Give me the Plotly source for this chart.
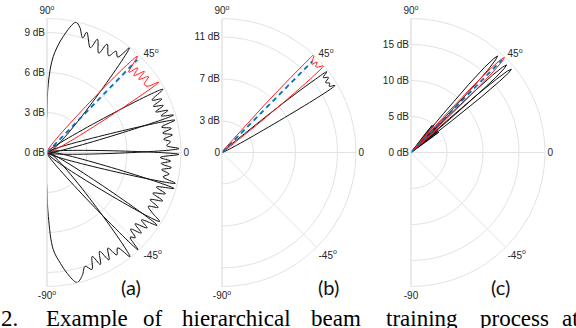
import plotly.graph_objects as go

W, H = 576, 328

# ---------------- DATA (angles in degrees, gains in dB) ----------------
# Panel (a): 8 wide beams (layer 1)
a_beam1_theta = [90, 90, 88.9, 86.3, 82, 77.5, 75.3, 72.7, 71.7, 67.5, 66, 62.5, 61, 57.5, 55.7, 53.5, 51.8, 50.5]
a_beam1_r     = [0, 3.0, 5.2, 7.2, 8.8, 10.0, 9.7, 9.0, 9.5, 8.5, 9.3, 8.4, 9.3, 8.6, 9.2, 8.9, 10.0, 0]
a_beam2_theta = [48, 46.8, 44.5, 43.0, 41.5, 39.8, 38.5, 36.8, 35.0, 33.5, 32.2, 31]
a_beam2_r     = [0, 9.9, 8.6, 9.3, 8.7, 9.5, 8.8, 9.5, 8.9, 9.0, 9.9, 0]
a_beam3_theta = [30, 28.6, 26.5, 25, 23.5, 22, 20.5, 19.2, 17.8, 16.5, 15.5]
a_beam3_r     = [0, 9.9, 8.8, 9.5, 8.7, 9.4, 8.7, 9.6, 9.0, 9.9, 0]
a_beam4_theta = [15.5, 14.2, 12.5, 11, 9.5, 8, 6.5, 5, 3.3, 1.7, 0.5]
a_beam4_r     = [0, 9.9, 8.8, 9.5, 8.8, 9.5, 8.8, 9.3, 9.0, 9.9, 0]
a_beam5_theta = [0.5, -0.8, -2.5, -4, -5.5, -7, -8.5, -10, -11.8, -13.5, -14.5]
a_beam5_r     = [0, 9.9, 8.5, 9.3, 8.6, 9.4, 8.7, 9.3, 8.9, 9.9, 0]
a_beam6_theta = [-14.5, -15.8, -17.5, -19.2, -21, -22.7, -24.5, -26.3, -28, -29.8, -31.5, -32.5]
a_beam6_r     = [0, 9.9, 8.6, 9.4, 8.5, 9.4, 8.5, 9.3, 8.6, 9.1, 9.9, 0]
a_beam7_theta = [-32.5, -33.5, -35.5, -37, -39, -40.5, -42.5, -44, -45.5, -46.9, -48]
a_beam7_r     = [0, 9.9, 8.7, 9.4, 8.5, 9.3, 8.5, 9.2, 8.9, 10.0, 0]
a_beam8_theta = [-50.5, -51.5, -53.5, -55.7, -57.5, -60, -62, -64.5, -66.5, -69, -71.5, -74, -77, -80.5, -83, -86.3, -88.8, -90, -90]
a_beam8_r     = [0, 10.0, 8.9, 9.3, 8.5, 9.3, 8.4, 9.3, 8.5, 9.4, 9.0, 9.6, 10.0, 9.2, 8.4, 7.3, 4.8, 2.8, 0]
a_true_theta = [45.8, 45.8]
a_true_r     = [0, 9.7]

# Panel (b): 2 medium beams (layer 2)
b_black_theta = [40.5, 39.8, 39.2, 38.6, 38.1, 37.6, 36.5, 35.2, 34.0, 32.8, 31.7, 30.7, 30.3]
b_black_r     = [0, 3, 6, 9, 11.3, 12.6, 12.0, 12.4, 11.9, 12.2, 12.0, 12.5, 0]
b_red_theta   = [49.5, 48.8, 48.2, 47.6, 47.1, 46.7, 45.5, 44.5, 43.5, 42.5, 41.5, 40.5, 39.8, 39.2, 38.6, 38.0, 37.5]
b_red_r       = [0, 3, 6, 9, 11.5, 12.8, 12.3, 12.0, 12.5, 12.1, 12.3, 12.7, 11, 8, 5, 2, 0]
b_true_theta = [45.3, 45.3]
b_true_r     = [0, 12.2]

# Panel (c): narrow beams (layer 3)
c_beam1_theta = [53.5, 52.8, 52.1, 51.4, 50.8, 50.5, 50.2, 49.7, 49.2, 48.6, 48.1, 47.6, 47.0, 46.5, 46.0, 45.7, 45.5, 44.8, 44.1, 43.4, 42.7]
c_beam1_r     = [0, 3.2, 4.8, 3.2, 0, 1, 7, 12.4, 15.6, 17.4, 18.0, 17.4, 15.6, 12.4, 7, 1, 0, 3.2, 4.8, 3.2, 0]
c_beam3_theta = [47.4, 46.8, 46.1, 45.5, 44.9, 44.7, 44.4, 43.9, 43.5, 43.0, 42.5, 42.0, 41.5, 41.1, 40.6, 40.3, 40.1, 39.5, 38.9, 38.2, 37.6]
c_beam3_r     = [0, 3.2, 4.8, 3.2, 0, 1, 7, 12.4, 15.6, 17.4, 18.0, 17.4, 15.6, 12.4, 7, 1, 0, 3.2, 4.8, 3.2, 0]
c_beam4_theta = [44.4, 43.8, 43.2, 42.6, 42.0, 41.8, 41.5, 41.1, 40.6, 40.2, 39.7, 39.2, 38.8, 38.3, 37.9, 37.6, 37.4, 36.8, 36.2, 35.6, 35.0]
c_beam4_r     = [0, 3.2, 4.8, 3.2, 0, 1, 7.1, 12.5, 15.7, 17.5, 18.1, 17.5, 15.7, 12.5, 7.1, 1, 0, 3.2, 4.8, 3.2, 0]
c_red_theta   = [50.6, 50.0, 49.3, 48.6, 48.0, 47.8, 47.5, 47.0, 46.5, 46.0, 45.5, 45.0, 44.5, 44.0, 43.5, 43.2, 43.0, 42.4, 41.7, 41.0, 40.4]
c_red_r       = [0, 3.2, 4.8, 3.2, 0, 1, 7.5, 12.9, 16.1, 17.9, 18.5, 17.9, 16.1, 12.9, 7.5, 1, 0, 3.2, 4.8, 3.2, 0]
c_true_theta = [45.5, 45.5]
c_true_r     = [0, 18.0]

# Axis ticks
a_rtick_vals = [0, 3, 6, 9]
a_rtick_text = ["0 dB", "3 dB", "6 dB", "9 dB"]
b_rtick_vals = [0, 3, 7, 11]
b_rtick_text = ["0", "3 dB", "7 dB", "11 dB"]
c_rtick_vals = [0, 5, 10, 15]
c_rtick_text = ["0 dB", "5 dB", "10 dB", "15 dB"]
r_max = [10.05, 12.76, 18.6]
ang_vals = [90, 45, 0, -45, -90]
ang_text_ab = ["90<sup>o</sup>", "45<sup>o</sup>", "0", "-45<sup>o</sup>", "-90<sup>o</sup>"]
ang_text_c = ["90<sup>o</sup>", "45<sup>o</sup>", "0", "-45<sup>o</sup>", "-90"]
panel_labels = ["(a)", "(b)", "(c)"]
caption_words = ["2.", "Example", "of", "hierarchical", "beam", "training", "process", "at"]

# ---------------- STYLE ----------------
BLACK = "#111111"
RED = "#ff1a1a"
BLUE = "#0072BD"
GRID = "#e3e3e3"
TICKC = "#262626"
SANS = "Liberation Sans, Arial, sans-serif"

fig = go.Figure()

def add_line(sub, th, r, color, width=1.0, dash=None, shape="spline"):
    fig.add_trace(go.Scatterpolar(
        theta=th, r=r, mode="lines", subplot=sub,
        line=dict(color=color, width=width, dash=dash, shape=shape, smoothing=1.0),
        hoverinfo="skip", showlegend=False))

for th, r in [(a_beam1_theta, a_beam1_r), (a_beam3_theta, a_beam3_r), (a_beam4_theta, a_beam4_r),
              (a_beam5_theta, a_beam5_r), (a_beam6_theta, a_beam6_r), (a_beam7_theta, a_beam7_r),
              (a_beam8_theta, a_beam8_r)]:
    add_line("polar", th, r, BLACK)
add_line("polar", a_beam2_theta, a_beam2_r, RED)
add_line("polar", a_true_theta, a_true_r, BLUE, 1.8, "5px,4px", "linear")

add_line("polar2", b_black_theta, b_black_r, BLACK)
add_line("polar2", b_red_theta, b_red_r, RED)
add_line("polar2", b_true_theta, b_true_r, BLUE, 1.8, "5px,4px", "linear")

for th, r in [(c_beam1_theta, c_beam1_r), (c_beam3_theta, c_beam3_r), (c_beam4_theta, c_beam4_r)]:
    add_line("polar3", th, r, BLACK, 1.0, None, "linear")
add_line("polar3", c_red_theta, c_red_r, RED, 1.0, None, "linear")
add_line("polar3", c_true_theta, c_true_r, BLUE, 1.8, "5px,4px", "linear")

# polar geometry (pixel centres and radius)
centres = [(47, 152.5), (222, 152.5), (411, 152.5)]
R = 134
rticks = [(a_rtick_vals, a_rtick_text), (b_rtick_vals, b_rtick_text), (c_rtick_vals, c_rtick_text)]
angtexts = [ang_text_ab, ang_text_ab, ang_text_c]

layout = dict(width=W, height=H, margin=dict(l=0, r=0, t=0, b=0),
              paper_bgcolor="white", showlegend=False)
for i, key in enumerate(["polar", "polar2", "polar3"]):
    cx, cy = centres[i]
    layout[key] = dict(
        domain=dict(x=[cx / W, (cx + R) / W], y=[1 - (cy + R) / H, 1 - (cy - R) / H]),
        sector=[-90, 90],
        bgcolor="white",
        radialaxis=dict(range=[0, r_max[i]], tickvals=rticks[i][0], ticktext=rticks[i][1],
                        angle=90, side="counterclockwise", tickangle=90,
                        showline=False, ticks="", gridcolor=GRID, gridwidth=1,
                        tickfont=dict(family=SANS, size=10, color=TICKC)),
        angularaxis=dict(tickvals=ang_vals, ticktext=angtexts[i], direction="counterclockwise",
                         rotation=0, showline=True, linecolor=GRID, linewidth=1,
                         gridcolor=GRID, gridwidth=1, ticks="",
                         tickfont=dict(family=SANS, size=10, color=TICKC)),
    )
fig.update_layout(**layout)

# panel labels
label_pos = [(131, 287), (328, 287), (500, 287)]
for txt, (x, y) in zip(panel_labels, label_pos):
    fig.add_annotation(text=txt, x=x / W, y=1 - y / H, xref="paper", yref="paper",
                       showarrow=False, xanchor="center", yanchor="middle",
                       font=dict(family="Lato, sans-serif", size=20, color="#111111"))

# caption (cut off at bottom as in the source)
word_x = [-1, 44, 141, 180, 309, 384, 478, 560]
for w, x in zip(caption_words, word_x):
    fig.add_annotation(text=w, x=x / W, y=1 - 318 / H, xref="paper", yref="paper",
                       showarrow=False, xanchor="left", yanchor="middle",
                       font=dict(family="Liberation Serif, Times New Roman, serif", size=23, color="black"))

fig.write_html("out.html", config={"displayModeBar": False},
               post_script="document.body.style.margin='0px';document.body.style.overflow='hidden';")
